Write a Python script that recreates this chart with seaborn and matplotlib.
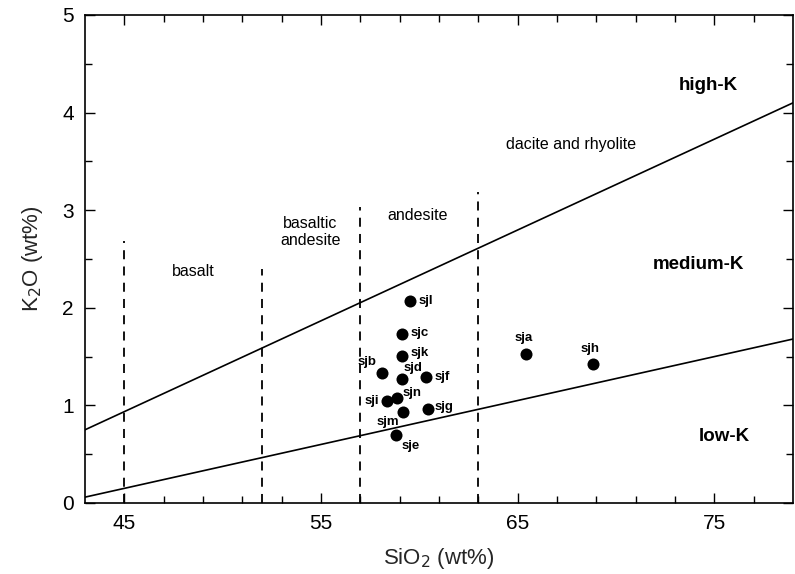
import matplotlib
matplotlib.use("Agg")
import matplotlib.pyplot as plt
import seaborn as sns
import pandas as pd
from matplotlib.ticker import MultipleLocator, FixedLocator

# ---- data ----
sample = ["sjl", "sjc", "sjk", "sjb", "sjd", "sjf", "sjn", "sji", "sjm", "sjg", "sje", "sja", "sjh"]
sio2 = [59.54, 59.13, 59.13, 58.12, 59.13, 60.34, 58.87, 58.37, 59.17, 60.43, 58.83, 65.40, 68.83]
k2o = [2.07, 1.73, 1.51, 1.335, 1.27, 1.29, 1.08, 1.05, 0.93, 0.96, 0.70, 1.53, 1.42]

line_x = [43, 79]
highk_y = [0.75, 4.10]
lowk_y = [0.06, 1.68]

div_x = [45, 52, 57, 63]
div_top = [2.68, 2.40, 3.03, 3.19]

field_names = ["basalt", "basaltic\nandesite", "andesite", "dacite and rhyolite"]
field_x = [48.5, 54.45, 59.9, 67.7]
field_y = [2.37, 2.78, 2.95, 3.67]

series_names = ["high-K", "medium-K", "low-K"]
series_x = [74.7, 74.2, 75.5]
series_y = [4.28, 2.44, 0.68]

xticks = [45, 55, 65, 75]
yticks = [0, 1, 2, 3, 4, 5]

# label offsets (points) for each sample label
offsets = {
    "sjl": (6, 0, "left", "center"),
    "sjc": (6, 1, "left", "center"),
    "sjk": (6, 2, "left", "center"),
    "sjb": (-4, 8, "right", "center"),
    "sjd": (1, 8, "left", "center"),
    "sjf": (6, 0, "left", "center"),
    "sjn": (4, 3, "left", "center"),
    "sji": (-6, 0, "right", "center"),
    "sjm": (-3, -7, "right", "center"),
    "sjg": (5, 2, "left", "center"),
    "sje": (4, -8, "left", "center"),
    "sja": (-1, 11, "center", "center"),
    "sjh": (-2, 11, "center", "center"),
}

sns.set_theme(style="ticks")
plt.rcParams["font.family"] = ["Liberation Sans", "DejaVu Sans"]

fig = plt.figure(figsize=(7.95, 5.74), dpi=100)
ax = fig.add_axes([85 / 795, 1 - 503 / 574, (793 - 85) / 795, (503 - 15) / 574])

df = pd.DataFrame({"SiO2": sio2, "K2O": k2o, "sample": sample})

# boundary lines
ax.plot(line_x, highk_y, color="black", lw=1.2)
ax.plot(line_x, lowk_y, color="black", lw=1.2)
for xv, top in zip(div_x, div_top):
    ax.plot([xv, xv], [0, top], color="black", lw=1.3, ls=(0, (5, 4)))

sns.scatterplot(data=df, x="SiO2", y="K2O", ax=ax, color="black", s=75,
                edgecolor="black", linewidth=0, zorder=5, legend=False)

for s, xv, yv in zip(sample, sio2, k2o):
    dx, dy, ha, va = offsets[s]
    ax.annotate(s, (xv, yv), xytext=(dx, dy), textcoords="offset points",
                ha=ha, va=va, fontsize=9.5, fontweight="semibold", color="black")

for n, xv, yv in zip(field_names, field_x, field_y):
    ax.text(xv, yv, n, ha="center", va="center", fontsize=11.5, color="black",
            linespacing=1.15)

for n, xv, yv in zip(series_names, series_x, series_y):
    ax.text(xv, yv, n, ha="center", va="center", fontsize=13.5, fontweight="bold",
            color="black")

ax.set_xlim(43, 79)
ax.set_ylim(0, 5)
ax.set_xticks(xticks)
ax.set_yticks(yticks)
ax.xaxis.set_minor_locator(FixedLocator(list(range(45, 79, 2))))
ax.yaxis.set_minor_locator(MultipleLocator(0.5))
ax.tick_params(axis="both", which="both", direction="in", top=True, right=True,
               labelsize=15, color="black", labelcolor="black", width=1.0, pad=8)
ax.tick_params(which="major", length=7)
ax.tick_params(which="minor", length=5)
for sp in ax.spines.values():
    sp.set_color("black")
    sp.set_linewidth(1.2)

ax.set_xlabel("SiO$_2$ (wt%)", fontsize=16, labelpad=9)
ax.set_ylabel("K$_2$O (wt%)", fontsize=16, labelpad=12)
ax.set_facecolor("white")
fig.patch.set_facecolor("white")

fig.savefig("out.png", dpi=100)
